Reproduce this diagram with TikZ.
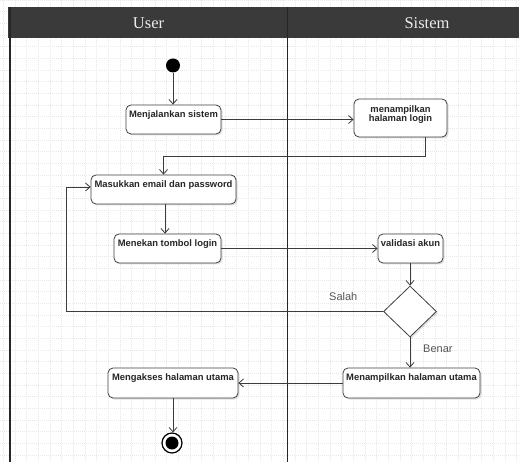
\documentclass[tikz,border=0pt]{standalone}
\usepackage{fontspec}
\setmainfont{Liberation Serif}
\setsansfont{Liberation Sans}
\usetikzlibrary{arrows.meta,shapes.geometric,shadows}
\definecolor{laneHead}{HTML}{3A3A3A}
\definecolor{lineCol}{HTML}{3C3C3C}
\definecolor{labelCol}{HTML}{555555}

\tikzset{
  gridline/.style={black!9, line width=0.4pt, dash pattern=on 1.2pt off 0.8pt},
  laneline/.style={black!85, line width=1.8pt},
  actbox/.style={draw=black!75, line width=0.8pt, fill=white, rounded corners=5pt,
    drop shadow={shadow xshift=1.5pt, shadow yshift=-1.5pt, fill=black, opacity=0.12},
    inner sep=0pt},
  acttext/.style={font=\sffamily\bfseries\fontsize{9.4}{9.2}\selectfont, text=black!85,
    inner sep=0pt, anchor=north, align=center},
  decision/.style={diamond, draw=black!75, line width=0.8pt, fill=white, inner sep=0pt,
    minimum width=53pt, minimum height=51pt,
    drop shadow={shadow xshift=1.5pt, shadow yshift=-1.5pt, fill=black, opacity=0.12}},
  flow/.style={draw=lineCol, line width=0.8pt, -{Straight Barb[length=4.5pt,width=8pt]}},
  guard/.style={font=\sffamily\fontsize{11}{13}\selectfont, text=labelCol, inner sep=0pt, anchor=base west},
  lanetitle/.style={font=\fontsize{16.5}{18}\selectfont, text=white!92!black, inner sep=0pt, anchor=base},
}

\begin{document}
\begin{tikzpicture}[x=1pt,y=-1pt]
  \useasboundingbox (0,0) rectangle (519,462);
  \fill[white] (0,0) rectangle (519,462);

  % background grid
  \foreach \i in {0,...,44}
    \draw[gridline] ({3.33+11.667*\i},0) -- ({3.33+11.667*\i},462);
  \foreach \j in {0,...,39}
    \draw[gridline] (0,{11.667*\j}) -- (519,{11.667*\j});

  % swimlane header and borders
  \fill[laneHead] (8,7) rectangle (519,38);
  \draw[laneline] (10,7) -- (10,462);
  \draw[laneline] (287.5,7) -- (287.5,462);
  \node[lanetitle] (hUser) at (148.5,29) {User};
  \node[lanetitle] (hSys) at (427,29) {Sistem};

  % start / end
  \node[circle, fill=black, minimum size=14pt, inner sep=0pt] (start) at (173,65.5) {};
  \node[circle, draw=black, line width=1.2pt, fill=white, minimum size=20pt, inner sep=0pt] (fin) at (172,443) {};
  \node[circle, fill=black, minimum size=13pt, inner sep=0pt] (finDot) at (fin) {};

  % activities
  \node[actbox, minimum width=95pt,  minimum height=29pt] (b1) at (173.5,119.5) {};
  \node[actbox, minimum width=93pt,  minimum height=38pt] (b2) at (400.5,118) {};
  \node[actbox, minimum width=145pt, minimum height=29pt] (b3) at (163.5,189.5) {};
  \node[actbox, minimum width=107pt, minimum height=29pt] (b4) at (167.5,248.5) {};
  \node[actbox, minimum width=65pt,  minimum height=29pt] (b5) at (410.5,248.5) {};
  \node[decision] (d) at (410,311.5) {};
  \node[actbox, minimum width=137pt, minimum height=30pt] (b6) at (411.5,383) {};
  \node[actbox, minimum width=130pt, minimum height=30pt] (b7) at (173,383) {};

  \node[acttext] (t1) at ([yshift=-5.5pt]b1.north) {Menjalankan sistem};
  \node[acttext] (t2) at ([yshift=-6.5pt]b2.north) {menampilkan\\halaman login};
  \node[acttext] (t3) at ([yshift=-5.5pt]b3.north) {Masukkan email dan password};
  \node[acttext] (t4) at ([yshift=-5.5pt]b4.north) {Menekan tombol login};
  \node[acttext] (t5) at ([yshift=-5.5pt]b5.north) {validasi akun};
  \node[acttext] (t6) at ([yshift=-5.5pt]b6.north) {Menampilkan halaman utama};
  \node[acttext] (t7) at ([yshift=-5.5pt]b7.north) {Mengakses halaman utama};

  % flows
  \draw[flow] (start) -- (start |- b1.north);
  \draw[flow] (b1.east) -- (b1.east -| b2.west);
  \draw[flow] ([xshift=24.5pt]b2.south) -- ++(0,19.5) -| (b3.north);
  \draw[flow] ([xshift=1.5pt]b3.south) -- ([xshift=1.5pt]b3.south |- b4.north);
  \draw[flow] (b4.east) -- (b5.west);
  \draw[flow] (d.north |- b5.south) -- (d.north);
  \draw[flow] (d.west) -| ([xshift=-24pt,yshift=2.5pt]b3.west) -- ([yshift=2.5pt]b3.west);
  \draw[flow] (d.south) -- (d.south |- b6.north);
  \draw[flow] (b6.west) -- (b7.east);
  \draw[flow] (b7.south) -- (b7.south |- fin.north);

  % guards
  \node[guard] (gSalah) at (329,300) {Salah};
  \node[guard] (gBenar) at (423,352) {Benar};
\end{tikzpicture}
\end{document}
